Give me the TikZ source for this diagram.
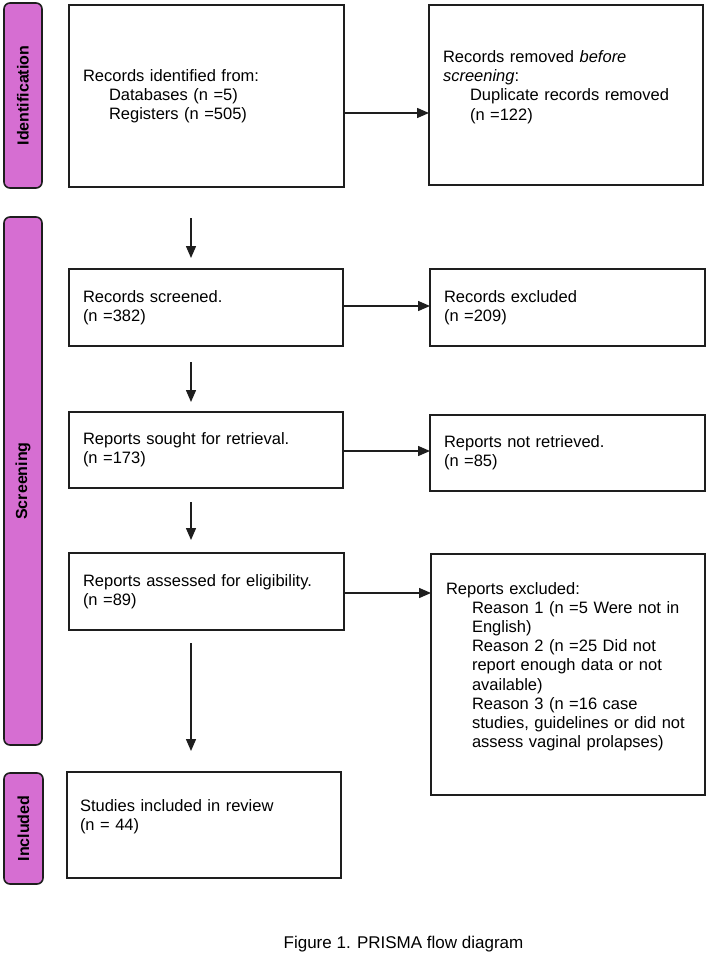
\documentclass[tikz,border=0pt]{standalone}
\usepackage{fontspec}
\setmainfont{Liberation Sans}
\usetikzlibrary{arrows.meta}
\definecolor{barfill}{RGB}{214,110,210}
\definecolor{edge}{RGB}{30,30,30}
\newcommand{\ind}{\hspace*{26pt}}
\begin{document}
\begin{tikzpicture}[x=1pt,y=-1pt,
  box/.style={draw=edge, line width=1.5pt, rectangle, inner xsep=14pt, inner ysep=2pt,
    outer sep=0pt, align=left, anchor=north west,
    font=\fontsize{16.5}{19.2}\selectfont},
  bar/.style={draw=edge, fill=barfill, line width=1.6pt, rounded corners=6pt,
    rotate=90, outer sep=0pt, minimum height=38pt, inner sep=0pt,
    font=\fontsize{16}{19}\selectfont\bfseries},
  arr/.style={line width=1.4pt, draw=edge, -{Triangle[length=12pt,width=10pt]}}]
\useasboundingbox (0,0) rectangle (709,955);
\fill[white] (0,0) rectangle (709,955);

% phase bars
\node[bar, minimum width=185pt] (idbar) at (23,95.5) {Identification};
\node[bar, minimum width=528pt] (scbar) at (23,481) {Screening};
\node[bar, minimum width=111pt, minimum height=39pt] (inbar) at (23.5,828.5) {Included};

% boxes
\node[box, minimum width=275pt, text width=247pt, minimum height=182pt] (b1) at (69,5)
  {Records identified from:\\ \ind Databases (n =5)\\ \ind Registers (n =505)};
\node[box, minimum width=274pt, text width=246pt, minimum height=180pt] (b2) at (429,5)
  {Records removed \textit{before}\\ \textit{screening}:\\ \hspace*{27pt}Duplicate records removed\\ \hspace*{27pt}(n =122)\\ \mbox{}};
\node[box, minimum width=274pt, text width=246pt, minimum height=77pt] (b3) at (69,269)
  {Records screened.\\ (n =382)};
\node[box, minimum width=275pt, text width=247pt, minimum height=77pt] (b4) at (430,269)
  {Records excluded\\ (n =209)};
\node[box, minimum width=274pt, text width=246pt, minimum height=76pt] (b5) at (69,412)
  {Reports sought for retrieval.\\ (n =173)};
\node[box, minimum width=275pt, text width=247pt, minimum height=76pt] (b6) at (430,415)
  {Reports not retrieved.\\ (n =85)};
\node[box, minimum width=275pt, text width=247pt, minimum height=77pt] (b7) at (69,553)
  {Reports assessed for eligibility.\\ (n =89)};
\node[box, minimum width=274pt, minimum height=241pt, inner xsep=15pt, text width=244pt] (b8) at (431,554)
  {Reports excluded:\\ \ind Reason 1 (n =5 Were not in\\ \ind English)\\ \ind Reason 2 (n =25 Did not\\ \ind report enough data or not\\ \ind available)\\ \ind Reason 3 (n =16 case\\ \ind studies, guidelines or did not\\ \ind assess vaginal prolapses)\\ \mbox{}};
\node[box, minimum width=274pt, text width=248pt, inner xsep=13pt, minimum height=106pt] (b9) at (67,772)
  {Studies included in review\\ (n = 44)\\ \mbox{}};

% caption
\node[anchor=base, inner sep=0pt, font=\fontsize{17}{20}\selectfont] (cap) at (403.5,948)
  {Figure 1. PRISMA flow diagram};

% vertical arrows
\draw[arr] ([xshift=-15.5pt,yshift=-31pt]b1.south) -- ([xshift=-15pt,yshift=11pt]b3.north);
\draw[arr] ([xshift=-15pt,yshift=-16pt]b3.south) -- ([xshift=-15pt,yshift=10pt]b5.north);
\draw[arr] ([xshift=-15pt,yshift=-14pt]b5.south) -- ([xshift=-15.5pt,yshift=13pt]b7.north);
\draw[arr] ([xshift=-15.5pt,yshift=-13pt]b7.south) -- ([xshift=-13pt,yshift=21pt]b9.north);

% horizontal arrows
\draw[arr] ([yshift=-17pt]b1.east) -- ([yshift=-17pt]b1.east -| b2.west);
\draw[arr] ([yshift=1.5pt]b3.east) -- ([yshift=1.5pt]b3.east -| b4.west);
\draw[arr] ([yshift=-1pt]b5.east) -- ([yshift=-1pt]b5.east -| b6.west);
\draw[arr] ([yshift=-1.5pt]b7.east) -- ([yshift=-1.5pt]b7.east -| b8.west);
\end{tikzpicture}
\end{document}
